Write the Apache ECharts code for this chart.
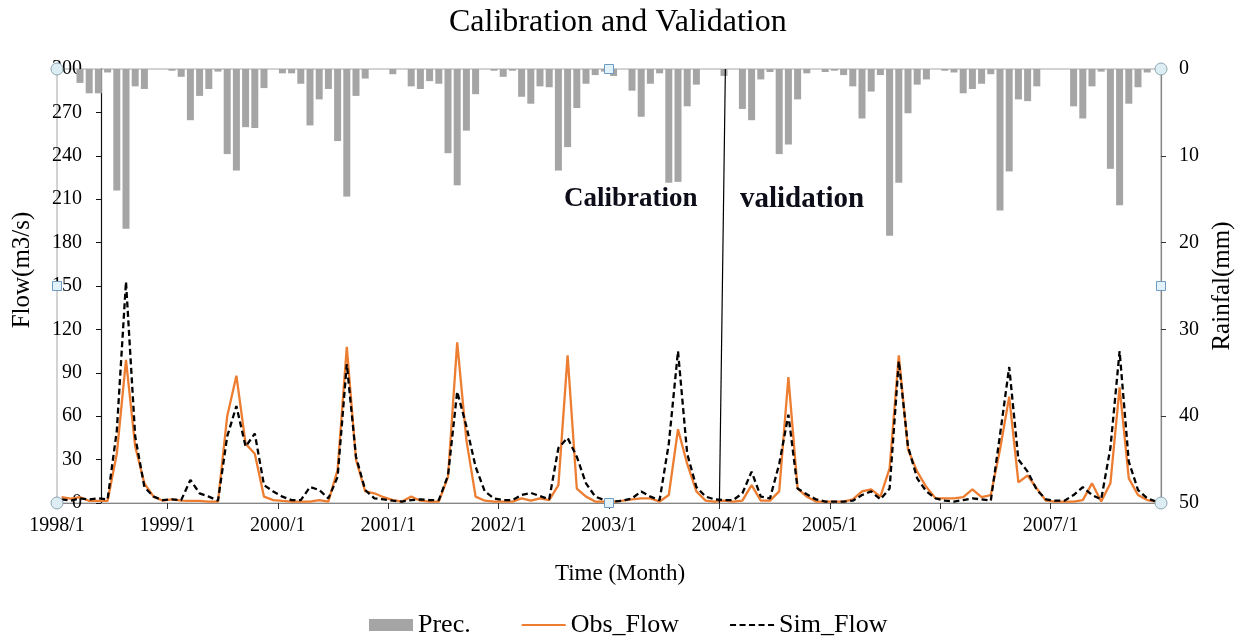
<!DOCTYPE html>
<html>
<head>
<meta charset="utf-8">
<script src="https://cdn.jsdelivr.net/npm/echarts@6/dist/echarts.min.js"></script>
<style>
  html, body { margin: 0; padding: 0; background: #fff; }
  #chart { width: 1246px; height: 637px; }
</style>
</head>
<body>
<div id="chart"></div>
<script>
// Monthly series, January 1998 to December 2007 (120 months)
const yearLabels = ['1998/1', '1999/1', '2000/1', '2001/1', '2002/1', '2003/1', '2004/1', '2005/1', '2006/1', '2007/1'];

// Monthly precipitation (mm), plotted downward from the top on the right axis
const prec = [
  0, 0, 1.6, 2.8, 2.8, 0.4, 14.0, 18.4, 2.0, 2.3, 0, 0,
  0.2, 0.9, 5.9, 3.1, 2.3, 0.3, 9.8, 11.7, 6.7, 6.8, 2.2, 0,
  0.5, 0.5, 1.7, 6.5, 3.5, 2.3, 8.3, 14.7, 3.1, 1.1, 0, 0,
  0.6, 0, 2.0, 2.3, 1.4, 1.7, 9.7, 13.4, 7.1, 2.9, 0, 0.2,
  0.9, 0.2, 3.2, 4.0, 2.0, 2.1, 11.7, 9.0, 4.5, 1.7, 0.7, 0.3,
  0.8, 0, 2.5, 5.5, 1.7, 0.5, 13.1, 13.0, 4.3, 1.8, 0, 0,
  0.8, 0, 4.6, 5.9, 1.2, 0.35, 9.8, 8.7, 3.5, 0.5, 0, 0.35,
  0.2, 0.7, 2.0, 5.7, 2.6, 0.7, 19.2, 13.1, 5.1, 1.8, 1.2, 0,
  0.2, 0.4, 2.8, 2.3, 1.7, 0.6, 16.3, 11.8, 3.5, 3.7, 2.0, 0,
  0, 0, 4.3, 5.7, 2.0, 0.3, 11.5, 15.7, 4.0, 2.1, 0.4, 0
];

// Observed monthly flow (m3/s)
const obsFlow = [
  4, 3, 4, 1.5, 1.5, 1.5, 34, 99, 39, 13.5, 4.4, 1.6,
  2.5, 1.6, 1.5, 1.5, 1, 1, 60, 88, 41, 34, 4.4, 2,
  1.4, 1, 1, 1, 2, 1, 23, 108, 30, 8, 6.7, 4,
  2, 1, 4.4, 1.6, 1, 1, 18, 111, 43.5, 4.4, 1.6, 1,
  1, 1, 3.2, 1.6, 3.2, 2, 12.4, 102, 10, 4.4, 1, 1,
  1, 1.6, 2.5, 3.2, 3.2, 1, 5.5, 51, 27, 8, 1.6, 1,
  1.6, 1, 1.6, 12.4, 1.6, 1.6, 8, 87, 10, 4.4, 1, 1,
  1, 1, 2.5, 8, 9.4, 4.4, 24, 102, 37, 21.7, 11, 3.2,
  3.2, 3.2, 4, 9.4, 4, 5.5, 37, 73.5, 14.3, 19, 10, 1.6,
  1, 1, 1, 2, 13.6, 1, 13.6, 80, 17, 5.5, 2, 1
];

// Simulated monthly flow (m3/s)
const simFlow = [
  2.5, 1.6, 3.2, 2.5, 3.2, 2.5, 50, 153, 46, 11, 4.4, 2,
  2.5, 2, 16, 6.7, 4.4, 1.6, 46, 67, 39, 48, 12.4, 8,
  4.4, 2, 2, 11, 9, 3.2, 18, 96, 32, 9, 3.2, 2.5,
  1.6, 1, 2, 2.5, 2, 2, 19, 77, 53, 25, 8, 3.2,
  2, 2, 5.5, 7, 4.8, 2.5, 38, 45, 32, 13.6, 4.4, 2,
  1, 1.6, 3.2, 8, 4.4, 2, 41, 105, 34, 11, 4.4, 2.5,
  2, 2, 6.7, 21.7, 4.4, 3.2, 27, 61, 10, 6, 2.5, 1,
  1, 1, 1.6, 5.5, 8, 2.5, 10, 98, 39, 17, 8, 3.2,
  1.6, 1, 2, 3.2, 2.5, 1.6, 47, 94, 30, 21.7, 9, 2.5,
  1.6, 1.6, 5.5, 11, 5.5, 2.5, 38, 105, 28.6, 9, 3.2, 1
];

// Month index where the validation period begins (2004/1)
const splitMonth = 72;

// Each month is drawn at the middle of its slot on a month-index axis
const toPoints = arr => arr.map((v, i) => [i + 0.5, v]);

const FONT = '"Liberation Serif", "Times New Roman", serif';
const plot = { left: 57, top: 69, right: 1161, bottom: 503 };

// Plot-area selection handles (corners round, edge midpoints square)
function handles() {
  const cx = (plot.left + plot.right) / 2, cy = (plot.top + plot.bottom) / 2;
  const corners = [[plot.left, plot.top], [plot.right, plot.top], [plot.left, plot.bottom], [plot.right, plot.bottom]];
  const mids = [[cx, plot.top], [cx, plot.bottom], [plot.left, cy], [plot.right, cy]];
  const out = [];
  corners.forEach(([x, y]) => out.push({
    type: 'circle', shape: { cx: x, cy: y, r: 6 }, z: 100,
    style: { fill: '#dcedf3', stroke: '#8fa6b2', lineWidth: 1 }
  }));
  mids.forEach(([x, y]) => out.push({
    type: 'rect', shape: { x: x - 4.5, y: y - 4.5, width: 9, height: 9 }, z: 100,
    style: { fill: '#e2f2fb', stroke: '#6d9bc3', lineWidth: 1 }
  }));
  return out;
}

const chart = echarts.init(document.getElementById('chart'), null, { renderer: 'canvas' });

chart.setOption({
  animation: false,
  backgroundColor: '#fff',
  textStyle: { fontFamily: FONT },
  title: {
    text: 'Calibration and Validation',
    left: 444, top: 2,
    textStyle: { fontFamily: FONT, fontSize: 32, fontWeight: 'normal', color: '#000' }
  },
  legend: {
    top: 607, left: 364,
    itemGap: 50, itemWidth: 44, itemHeight: 12,
    textStyle: { fontFamily: FONT, fontSize: 26, color: '#000' },
    data: [
      { name: 'Prec.', icon: 'rect' },
      { name: 'Obs_Flow', itemStyle: { opacity: 0 } },
      { name: 'Sim_Flow', itemStyle: { opacity: 0 } }
    ]
  },
  grid: {
    left: plot.left, top: plot.top, right: 1246 - plot.right, bottom: 637 - plot.bottom,
    show: true, borderColor: '#a6a6a6', borderWidth: 1
  },
  xAxis: {
    type: 'value', min: 0, max: 120, interval: 12,
    name: 'Time (Month)', nameLocation: 'middle', nameGap: 59,
    nameTextStyle: { fontFamily: FONT, fontSize: 23, color: '#000', padding: [0, 0, 0, 22] },
    axisLine: { show: true, lineStyle: { color: '#868686', width: 1.2 } },
    axisTick: { show: true, length: 6, lineStyle: { color: '#333' } },
    splitLine: { show: false },
    axisLabel: {
      fontFamily: FONT, fontSize: 20, color: '#000', margin: 13,
      formatter: v => (v < 120 ? yearLabels[v / 12] : '')
    }
  },
  yAxis: [
    {
      type: 'value', position: 'left', offset: -44,
      min: 0, max: 300, interval: 30,
      name: 'Flow(m3/s)', nameLocation: 'middle', nameGap: 66, nameRotate: 90,
      nameTextStyle: { fontFamily: FONT, fontSize: 25, color: '#000', padding: [0, 0, 0, 32] },
      axisLine: { show: true, lineStyle: { color: '#111', width: 1.2 } },
      axisTick: { show: true, length: 5, lineStyle: { color: '#111' } },
      splitLine: { show: false },
      axisLabel: { fontFamily: FONT, fontSize: 20, color: '#000', margin: 19 }
    },
    {
      type: 'value', position: 'right', inverse: true,
      min: 0, max: 50, interval: 10,
      name: 'Rainfal(mm)', nameLocation: 'middle', nameGap: 49, nameRotate: 90,
      nameTextStyle: { fontFamily: FONT, fontSize: 25, color: '#000' },
      axisLine: { show: true, lineStyle: { color: '#868686', width: 1.2 } },
      axisTick: { show: true, length: 5, lineStyle: { color: '#333' } },
      splitLine: { show: false },
      axisLabel: { fontFamily: FONT, fontSize: 20, color: '#000', margin: 18 }
    }
  ],
  graphic: [
    {
      type: 'text', left: 564, top: 186, z: 50,
      style: { text: 'Calibration', font: 'bold 27px ' + FONT, fill: '#0d0d1a' }
    },
    {
      type: 'text', left: 740, top: 185, z: 50,
      style: { text: 'validation', font: 'bold 29px ' + FONT, fill: '#0d0d1a' }
    }
  ].concat(handles()),
  series: [
    {
      name: 'Prec.', type: 'bar', yAxisIndex: 1,
      barWidth: 7, itemStyle: { color: '#a5a5a5' },
      data: toPoints(prec), z: 1
    },
    {
      name: 'Obs_Flow', type: 'line', yAxisIndex: 0,
      symbol: 'none', showSymbol: false,
      lineStyle: { color: '#ed7d31', width: 2.3 },
      itemStyle: { color: '#ed7d31' },
      data: toPoints(obsFlow), z: 3,
      markLine: {
        silent: true, symbol: ['none', 'none'], label: { show: false },
        lineStyle: { color: '#000', width: 1.2, type: 'solid' },
        data: [[{ coord: [splitMonth + 0.65, 300] }, { coord: [splitMonth, 0] }]]
      }
    },
    {
      name: 'Sim_Flow', type: 'line', yAxisIndex: 0,
      symbol: 'none', showSymbol: false,
      lineStyle: { color: '#000', width: 2.3, type: [6, 3.5] },
      itemStyle: { color: '#000' },
      data: toPoints(simFlow), z: 4
    }
  ]
});
</script>
</body>
</html>
